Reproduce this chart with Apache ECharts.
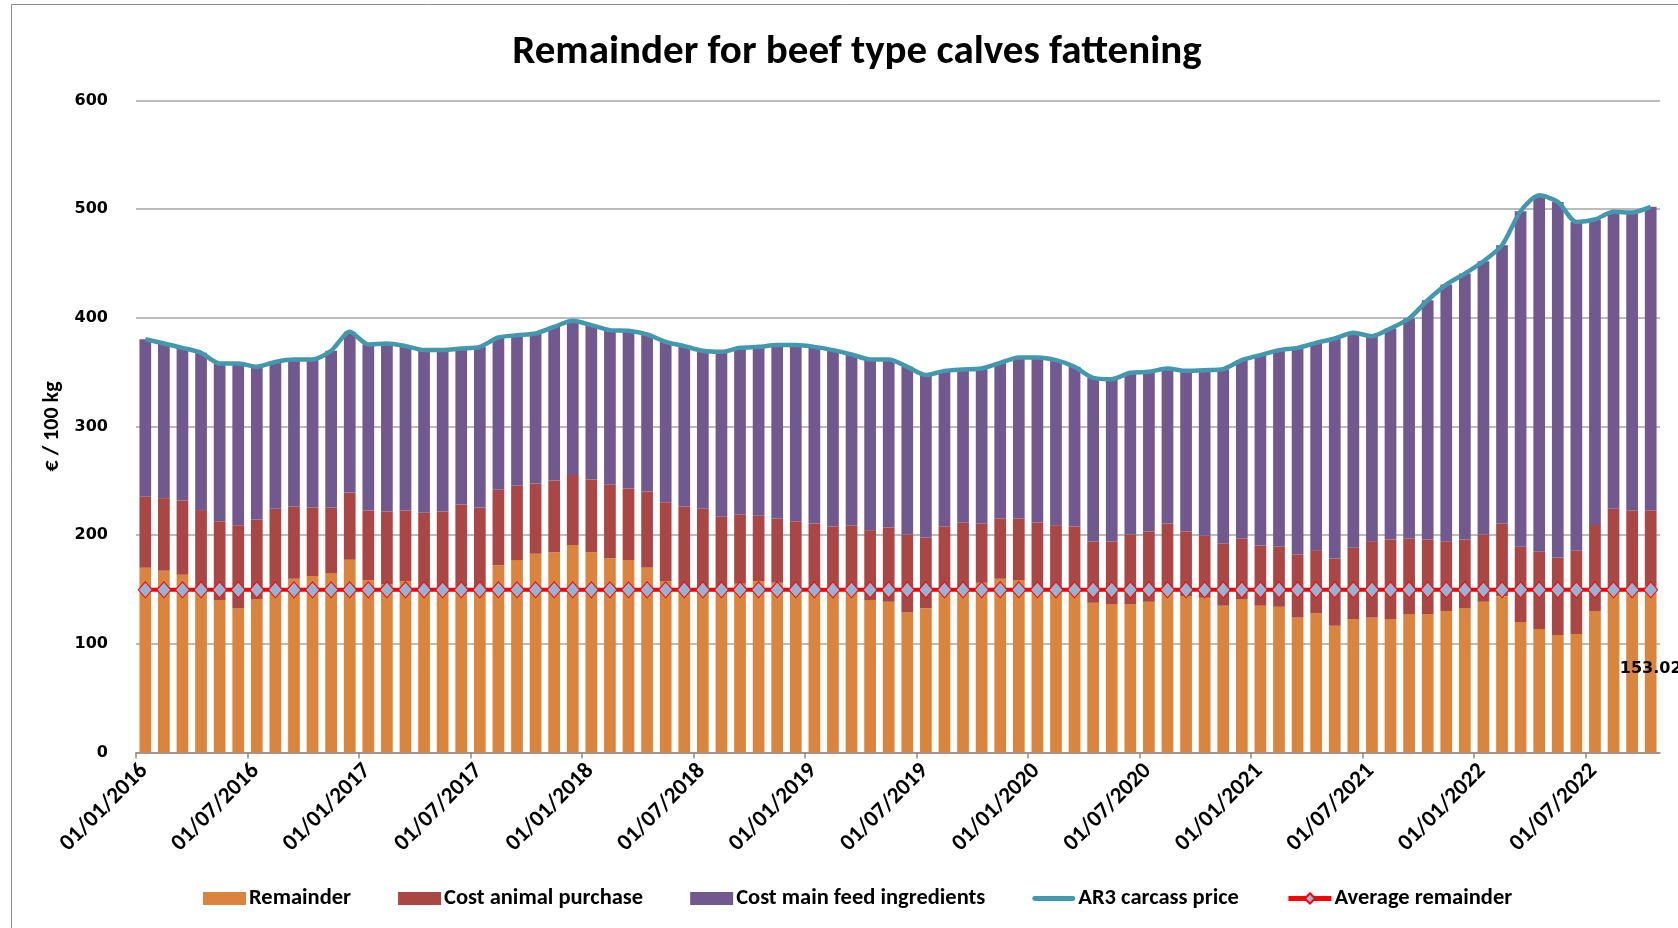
<!DOCTYPE html>
<html>
<head>
<meta charset="utf-8">
<script src="https://cdn.jsdelivr.net/npm/echarts@6/dist/echarts.min.js"></script>
<style>
  html, body { margin: 0; padding: 0; background: #fff; }
  #chart { width: 1678px; height: 928px; }
</style>
</head>
<body>
<div id="chart"></div>
<script>
// Monthly categories, Jan 2016 - Oct 2022
const months = [
  '2016-01','2016-02','2016-03','2016-04','2016-05','2016-06','2016-07','2016-08','2016-09','2016-10','2016-11','2016-12',
  '2017-01','2017-02','2017-03','2017-04','2017-05','2017-06','2017-07','2017-08','2017-09','2017-10','2017-11','2017-12',
  '2018-01','2018-02','2018-03','2018-04','2018-05','2018-06','2018-07','2018-08','2018-09','2018-10','2018-11','2018-12',
  '2019-01','2019-02','2019-03','2019-04','2019-05','2019-06','2019-07','2019-08','2019-09','2019-10','2019-11','2019-12',
  '2020-01','2020-02','2020-03','2020-04','2020-05','2020-06','2020-07','2020-08','2020-09','2020-10','2020-11','2020-12',
  '2021-01','2021-02','2021-03','2021-04','2021-05','2021-06','2021-07','2021-08','2021-09','2021-10','2021-11','2021-12',
  '2022-01','2022-02','2022-03','2022-04','2022-05','2022-06','2022-07','2022-08','2022-09','2022-10'
];

// Tick labels (every 6 months, at month boundaries)
const tickLabels = [
  '01/01/2016','01/07/2016','01/01/2017','01/07/2017','01/01/2018','01/07/2018','01/01/2019',
  '01/07/2019','01/01/2020','01/07/2020','01/01/2021','01/07/2021','01/01/2022','01/07/2022'
];
const tickPositions = [0, 6, 12, 18, 24, 30, 36, 42, 48, 54, 60, 66, 72, 78];

const remainder = [
  170.0,167.2,163.5,148.0,140.2,132.5,141.1,151.0,159.8,162.3,165.0,177.2,
  158.6,154.9,157.7,152.0,151.0,153.0,151.0,172.3,177.0,182.7,184.3,190.8,
  184.3,178.5,177.0,170.0,157.7,150.0,151.0,150.0,155.2,157.7,156.1,152.0,
  150.0,150.0,148.0,140.2,138.6,128.8,132.5,150.0,150.0,156.1,159.8,158.6,
  152.0,150.0,148.0,137.7,136.5,136.5,138.6,150.0,143.9,142.3,135.0,141.1,
  135.0,134.0,124.0,128.0,116.6,122.7,124.0,122.7,127.3,127.3,130.1,132.5,
  138.6,143.8,119.9,113.5,108.0,108.9,130.1,150.0,151.0,153.02
];

const costAnimalPurchase = [
  65.2,66.8,68.4,75.0,72.6,76.6,73.3,73.2,66.5,63.1,60.4,62.0,
  64.0,66.8,64.9,68.5,70.7,75.1,74.4,69.4,68.3,64.8,65.9,64.4,
  66.9,68.1,65.9,70.1,72.6,76.3,73.2,66.8,63.8,60.0,59.2,60.8,
  60.7,57.9,61.1,64.3,68.4,71.7,65.3,57.6,61.3,54.6,55.5,56.7,
  59.6,59.1,59.9,56.4,57.6,64.0,64.7,60.7,59.4,57.0,57.3,55.8,
  55.4,55.2,58.2,58.1,61.9,65.6,70.4,73.3,69.6,68.7,64.3,63.5,
  62.0,66.9,69.3,71.1,71.4,76.6,79.1,74.2,71.3,69.3
];

const costMainFeed = [
  145.1,142.3,140.4,144.7,145.1,148.8,140.4,135.2,135.3,136.2,144.2,147.8,
  152.8,154.6,151.3,149.7,148.5,143.6,147.8,140.1,138.6,138.0,141.4,142.0,
  142.0,142.0,145.1,144.5,147.5,147.6,145.4,151.8,153.3,155.5,159.5,162.0,
  162.5,162.3,157.1,157.1,154.6,154.3,149.4,143.5,141.1,142.6,143.2,148.2,
  151.9,151.9,146.9,150.6,149.4,148.8,146.9,142.6,147.8,152.4,160.4,164.1,
  175.2,181.0,190.1,190.8,202.4,197.8,188.6,194.1,202.4,220.1,236.1,244.6,
  251.4,256.0,308.8,328.1,327.2,302.7,281.2,273.3,274.5,279.7
];

const ar3CarcassPrice = [
  380.3,376.3,372.3,367.7,357.9,357.9,354.8,359.4,361.6,361.6,369.6,387.0,
  375.4,376.3,373.9,370.2,370.2,371.7,373.2,381.8,383.9,385.5,391.6,397.2,
  393.2,388.6,388.0,384.6,377.8,373.9,369.6,368.6,372.3,373.2,374.8,374.8,
  373.2,370.2,366.2,361.6,361.6,354.8,347.2,351.1,352.4,353.3,358.5,363.5,
  363.5,361.0,354.8,344.7,343.5,349.3,350.2,353.3,351.1,351.7,352.7,361.0,
  365.6,370.2,372.3,376.9,380.9,386.1,383.0,390.1,399.3,416.1,430.5,440.6,
  452.0,466.7,498.0,512.7,506.6,488.2,490.4,497.5,496.8,502.0
];

const averageRemainder = [
  149.6,149.6,149.6,149.6,149.6,149.6,149.6,149.6,149.6,149.6,149.6,149.6,
  149.6,149.6,149.6,149.6,149.6,149.6,149.6,149.6,149.6,149.6,149.6,149.6,
  149.6,149.6,149.6,149.6,149.6,149.6,149.6,149.6,149.6,149.6,149.6,149.6,
  149.6,149.6,149.6,149.6,149.6,149.6,149.6,149.6,149.6,149.6,149.6,149.6,
  149.6,149.6,149.6,149.6,149.6,149.6,149.6,149.6,149.6,149.6,149.6,149.6,
  149.6,149.6,149.6,149.6,149.6,149.6,149.6,149.6,149.6,149.6,149.6,149.6,
  149.6,149.6,149.6,149.6,149.6,149.6,149.6,149.6,149.6,149.6
];

const FONT = "Carlito, 'Liberation Sans', Arial, sans-serif";
const WIDE = "'DejaVu Sans', Verdana, sans-serif";

const remainderData = remainder.map((v, i) => i === remainder.length - 1
  ? { value: v, label: { show: true, position: 'inside', formatter: '153.02', color: '#000', fontWeight: 'bold', fontSize: 16, fontFamily: WIDE } }
  : v);

const chart = echarts.init(document.getElementById('chart'), null, { renderer: 'canvas' });

chart.setOption({
  backgroundColor: '#ffffff',
  animation: false,
  graphic: [{
    type: 'rect',
    shape: { x: 11.5, y: 4.5, width: 1700, height: 1000 },
    style: { fill: 'none', stroke: '#8c8c8c', lineWidth: 1 },
    silent: true, z: -10
  }],
  title: {
    text: 'Remainder for beef type calves fattening',
    left: 852, top: 27, textAlign: 'center',
    textStyle: { fontFamily: FONT, fontWeight: 'bold', fontSize: 41, color: '#000' }
  },
  legend: {
    left: 203, top: 887,
    itemWidth: 43, itemHeight: 13, itemGap: 47,
    padding: 0,
    textStyle: { fontFamily: FONT, fontWeight: 'bold', fontSize: 22.5, color: '#000', padding: [0, 0, 0, -2] },
    data: [
      { name: 'Remainder', icon: 'rect' },
      { name: 'Cost animal purchase', icon: 'rect' },
      { name: 'Cost main feed ingredients', icon: 'rect' },
      { name: 'AR3 carcass price', icon: 'path://M2,0 L41,0 A2.5,2.5 0 0 1 41,5 L2,5 A2.5,2.5 0 0 1 2,0 Z' },
      { name: 'Average remainder', lineStyle: { width: 5, color: '#FF0000' } }
    ]
  },
  grid: { left: 136, right: 18, top: 100.4, bottom: 175.6, containLabel: false },
  xAxis: [
    {
      type: 'category', data: months, boundaryGap: true,
      axisLine: { show: false }, axisTick: { show: false }, axisLabel: { show: false },
      splitLine: { show: false }
    },
    {
      type: 'value', min: 0, max: months.length, position: 'bottom',
      axisLine: { show: true, lineStyle: { color: '#8c8c8c', width: 1.5 } },
      axisTick: { show: true, length: 6, lineStyle: { color: '#8c8c8c', width: 1.5 }, customValues: tickPositions },
      axisLabel: {
        show: true, rotate: 45, margin: 7, verticalAlign: 'top', customValues: tickPositions,
        formatter: v => tickLabels[tickPositions.indexOf(v)] || '',
        fontFamily: FONT, fontWeight: 'bold', fontSize: 23, color: '#000'
      },
      splitLine: { show: false }
    }
  ],
  yAxis: {
    type: 'value', min: 0, max: 600, interval: 100,
    name: '€ / 100 kg', nameLocation: 'middle', nameGap: 65, nameRotate: 90,
    nameTextStyle: { fontFamily: FONT, fontWeight: 'bold', fontSize: 22, color: '#000' },
    axisLine: { show: false }, axisTick: { show: false },
    axisLabel: { margin: 28, fontFamily: WIDE, fontWeight: 'bold', fontSize: 16, color: '#000' },
    splitLine: { lineStyle: { color: '#a6a6a6', width: 1.5 } }
  },
  series: [
    {
      name: 'Remainder', type: 'bar', stack: 'total', data: remainderData,
      barCategoryGap: '37%', itemStyle: { color: '#DB843D' }
    },
    {
      name: 'Cost animal purchase', type: 'bar', stack: 'total', data: costAnimalPurchase,
      barCategoryGap: '37%', itemStyle: { color: '#AA4643' }
    },
    {
      name: 'Cost main feed ingredients', type: 'bar', stack: 'total', data: costMainFeed,
      barCategoryGap: '37%', itemStyle: { color: '#71588F' }
    },
    {
      name: 'AR3 carcass price', type: 'line', data: ar3CarcassPrice,
      smooth: 0.25, showSymbol: false, symbol: 'none',
      lineStyle: { color: '#4198AF', width: 4.5 }, itemStyle: { color: '#4198AF' }, z: 5
    },
    {
      name: 'Average remainder', type: 'line', data: averageRemainder,
      symbol: 'diamond', symbolSize: [14, 16], showSymbol: true, showAllSymbol: true,
      lineStyle: { color: '#FF0000', width: 4 },
      itemStyle: { color: '#95B3D7', borderColor: '#FF0000', borderWidth: 1 }, z: 6
    }
  ]
});
</script>
</body>
</html>
